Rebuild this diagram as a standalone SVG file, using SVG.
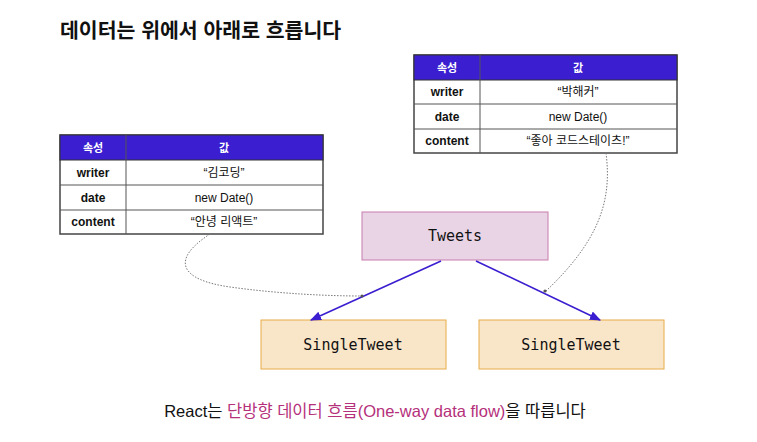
<svg xmlns="http://www.w3.org/2000/svg" width="757" height="442" viewBox="0 0 757 442">
<style>
.k{font-family:"Liberation Sans","Noto Sans CJK KR",sans-serif}
.hd{fill:#3a1ed0;stroke:#333;stroke-width:1}
.ht{font-size:11px;fill:#fff;font-weight:bold;text-anchor:middle}
.lt{font-size:12px;font-weight:bold;text-anchor:middle;fill:#111}
.vt{font-size:12px;text-anchor:middle;fill:#111}
.mono{font-family:"DejaVu Sans Mono",monospace;font-size:15px;text-anchor:middle;fill:#111}
.dot{fill:none;stroke:#777;stroke-width:1;stroke-dasharray:1.5 1.5}
.arr{stroke:#3a1ed0;stroke-width:1.6;fill:none;marker-end:url(#ah)}
</style>
<defs>
<marker id="ah" viewBox="0 0 10 10" refX="9" refY="5" markerWidth="7" markerHeight="7" orient="auto"><path d="M0,1 L10,5 L0,9 z" fill="#3a1ed0"/></marker>
</defs>
<rect width="757" height="442" fill="#fff"/>
<text class="k" x="60" y="38" font-size="20.5" font-weight="bold" fill="#111">데이터는 위에서 아래로 흐릅니다</text>
<g id="table-left" class="k">
<rect x="60" y="135" width="263" height="99" fill="#fff" stroke="#444" stroke-width="1.5"/>
<rect class="hd" x="60" y="135" width="263" height="25"/>
<line x1="126" y1="135" x2="126" y2="234" stroke="#555"/>
<line x1="60" y1="185" x2="323" y2="185" stroke="#555"/>
<line x1="60" y1="210" x2="323" y2="210" stroke="#555"/>
<text class="ht" x="93" y="152">속성</text><text class="ht" x="224" y="152">값</text>
<text class="lt" x="93" y="177">writer</text><text class="vt" x="224" y="177">“김코딩”</text>
<text class="lt" x="93" y="202">date</text><text class="vt" x="224" y="202">new Date()</text>
<text class="lt" x="93" y="226">content</text><text class="vt" x="224" y="226">“안녕 리액트”</text>
</g>
<g id="table-right" class="k">
<rect x="414" y="55" width="263" height="98" fill="#fff" stroke="#444" stroke-width="1.5"/>
<rect class="hd" x="414" y="55" width="263" height="25"/>
<line x1="480" y1="55" x2="480" y2="153" stroke="#555"/>
<line x1="414" y1="104" x2="677" y2="104" stroke="#555"/>
<line x1="414" y1="129" x2="677" y2="129" stroke="#555"/>
<text class="ht" x="447" y="72">속성</text><text class="ht" x="578" y="72">값</text>
<text class="lt" x="447" y="96">writer</text><text class="vt" x="578" y="96">“박해커”</text>
<text class="lt" x="447" y="121">date</text><text class="vt" x="578" y="121">new Date()</text>
<text class="lt" x="447" y="145">content</text><text class="vt" x="578" y="145">“좋아 코드스테이츠!”</text>
</g>
<g id="tweets"><rect x="362" y="212" width="186" height="48" fill="#e9d4e6" stroke="#c77aae"/><text class="mono" x="455" y="241">Tweets</text></g>
<g id="single1"><rect x="261" y="320" width="185" height="49" fill="#f9e6c9" stroke="#e8ac48"/><text class="mono" x="353" y="350">SingleTweet</text></g>
<g id="single2"><rect x="479" y="320" width="185" height="49" fill="#f9e6c9" stroke="#e8ac48"/><text class="mono" x="571" y="350">SingleTweet</text></g>
<g id="connectors">
<path class="arr" d="M441,261 L311,320"/>
<path class="arr" d="M476,261 L600,320"/>
<path class="dot" d="M210,234 C170,260 180,280 230,287 C280,294 330,296 362,296"/>
<circle cx="362" cy="296" r="1.6" fill="#555"/>
<path class="dot" d="M606,153 C612,200 600,240 545,292"/>
<circle cx="545" cy="291" r="1.6" fill="#555"/>
</g>
<text class="k" x="375" y="417" font-size="16.5" text-anchor="middle" fill="#111">React는 <tspan fill="#b5307a">단방향 데이터 흐름(One-way data flow)</tspan>을 따릅니다</text>
</svg>
